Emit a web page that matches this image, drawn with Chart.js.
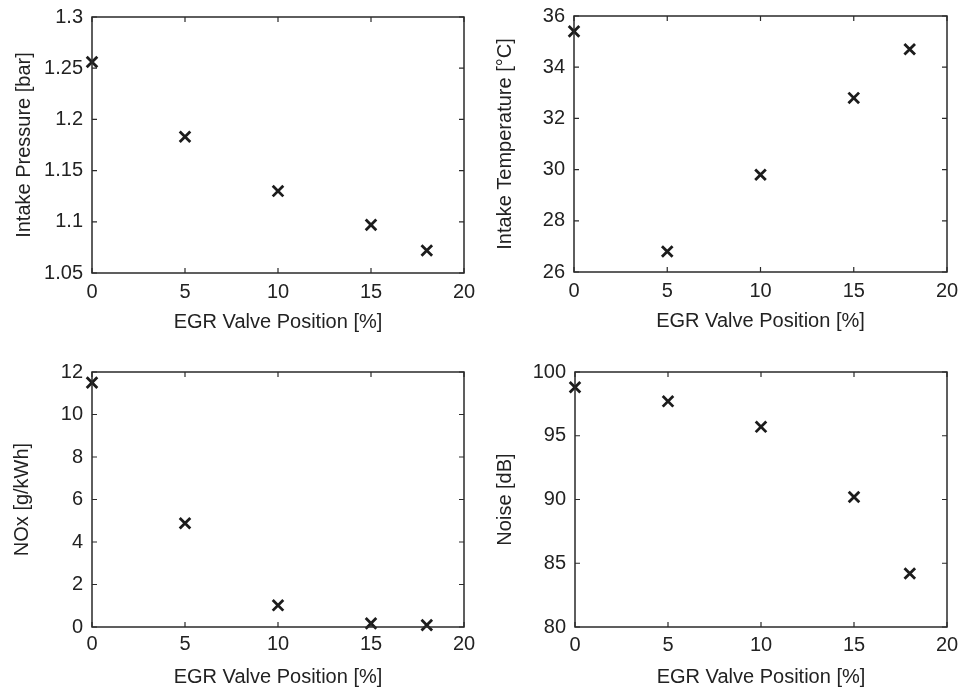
<!DOCTYPE html>
<html>
<head>
<meta charset="utf-8">
<script src="https://cdn.jsdelivr.net/npm/chart.js@4"></script>
<style>
  html, body { margin: 0; padding: 0; background: #fff; }
  #page { position: relative; width: 960px; height: 694px; }
  .panel { position: absolute; }
</style>
</head>
<body>
<div id="page">
  <div class="panel" style="left:0;top:0;width:480px;height:340px"><canvas id="pressureChart"></canvas></div>
  <div class="panel" style="left:480px;top:0;width:480px;height:340px"><canvas id="tempChart"></canvas></div>
  <div class="panel" style="left:0;top:340px;width:480px;height:354px"><canvas id="noxChart"></canvas></div>
  <div class="panel" style="left:480px;top:340px;width:480px;height:354px"><canvas id="noiseChart"></canvas></div>
</div>
<script>
// EGR sweep measurements
const egrPosition = [0, 5, 10, 15, 18];
const intakePressure = [1.256, 1.183, 1.130, 1.097, 1.072];
const intakeTemp = [35.4, 26.8, 29.8, 32.8, 34.7];
const noxValues = [11.5, 4.88, 1.02, 0.17, 0.09];
const noiseValues = [98.8, 97.7, 95.7, 90.2, 84.2];

const egrTicks = [0, 5, 10, 15, 20];
const pressureTicks = [1.05, 1.1, 1.15, 1.2, 1.25, 1.3];
const tempTicks = [26, 28, 30, 32, 34, 36];
const noxTicks = [0, 2, 4, 6, 8, 10, 12];
const noiseTicks = [80, 85, 90, 95, 100];

const INK = '#1c1c1c';
const FONT = "'Liberation Sans', Arial, Helvetica, sans-serif";

// matlab-like box with inward ticks on all four sides
const boxFrame = {
  id: 'boxFrame',
  afterDraw(chart) {
    const {ctx, chartArea: a, scales: {x, y}} = chart;
    ctx.save();
    ctx.strokeStyle = '#2a2a2a';
    ctx.lineWidth = 1.5;
    ctx.strokeRect(a.left, a.top, a.right - a.left, a.bottom - a.top);
    ctx.lineWidth = 1.2;
    ctx.beginPath();
    x.ticks.forEach(t => {
      const px = x.getPixelForValue(t.value);
      ctx.moveTo(px, a.bottom); ctx.lineTo(px, a.bottom - 5);
      ctx.moveTo(px, a.top); ctx.lineTo(px, a.top + 5);
    });
    y.ticks.forEach(t => {
      const py = y.getPixelForValue(t.value);
      ctx.moveTo(a.left, py); ctx.lineTo(a.left + 5, py);
      ctx.moveTo(a.right, py); ctx.lineTo(a.right - 5, py);
    });
    ctx.stroke();
    ctx.restore();
  }
};

const fmt = v => String(parseFloat(Number(v).toFixed(4)));

function makeChart(id, ys, yTicks, yTitle, box) {
  const fixTicks = list => scale => { scale.ticks = list.map(v => ({value: v})); };
  return new Chart(document.getElementById(id), {
    type: 'scatter',
    data: {
      datasets: [{
        data: egrPosition.map((v, i) => ({x: v, y: ys[i]})),
        pointStyle: 'crossRot',
        pointRadius: 7.5,
        pointBorderWidth: 2.8,
        borderColor: INK,
        backgroundColor: INK,
        clip: false
      }]
    },
    options: {
      responsive: true,
      maintainAspectRatio: false,
      animation: false,
      layout: {padding: {top: box.top, right: box.right, left: 0, bottom: 0}},
      plugins: {legend: {display: false}, tooltip: {enabled: false}},
      scales: {
        x: {
          type: 'linear', min: 0, max: 20,
          afterBuildTicks: fixTicks(egrTicks),
          afterFit: s => { s.height = box.xAxisH; s.paddingLeft = 0; s.paddingRight = 0; },
          grid: {display: false, drawTicks: false},
          border: {display: false},
          ticks: {color: '#222', padding: box.xTickPad, font: {family: FONT, size: 20}, callback: fmt},
          title: {display: true, text: 'EGR Valve Position [%]', color: '#222',
                  padding: {top: 0, bottom: box.xTitlePad}, font: {family: FONT, size: 20}}
        },
        y: {
          type: 'linear', min: yTicks[0], max: yTicks[yTicks.length - 1],
          afterBuildTicks: fixTicks(yTicks),
          afterFit: s => { s.width = box.yAxisW; s.paddingTop = 0; s.paddingBottom = 0; },
          grid: {display: false, drawTicks: false},
          border: {display: false},
          ticks: {color: '#222', padding: 9, font: {family: FONT, size: 20}, callback: fmt},
          title: {display: true, text: yTitle, color: '#222',
                  padding: {top: box.yTitlePad, bottom: 0}, font: {family: FONT, size: 20}}
        }
      }
    },
    plugins: [boxFrame]
  });
}

makeChart('pressureChart', intakePressure, pressureTicks, 'Intake Pressure [bar]',
  {top: 17, right: 16, yAxisW: 92, xAxisH: 67, xTickPad: 7, xTitlePad: 6, yTitlePad: 12});
makeChart('tempChart', intakeTemp, tempTicks, 'Intake Temperature [°C]',
  {top: 16, right: 13, yAxisW: 94, xAxisH: 68, xTickPad: 7, xTitlePad: 7, yTitlePad: 13});
makeChart('noxChart', noxValues, noxTicks, 'NOx [g/kWh]',
  {top: 32, right: 16, yAxisW: 92, xAxisH: 67, xTickPad: 5, xTitlePad: 5, yTitlePad: 10});
makeChart('noiseChart', noiseValues, noiseTicks, 'Noise [dB]',
  {top: 32, right: 13, yAxisW: 95, xAxisH: 67, xTickPad: 6, xTitlePad: 5, yTitlePad: 13});
</script>
</body>
</html>
